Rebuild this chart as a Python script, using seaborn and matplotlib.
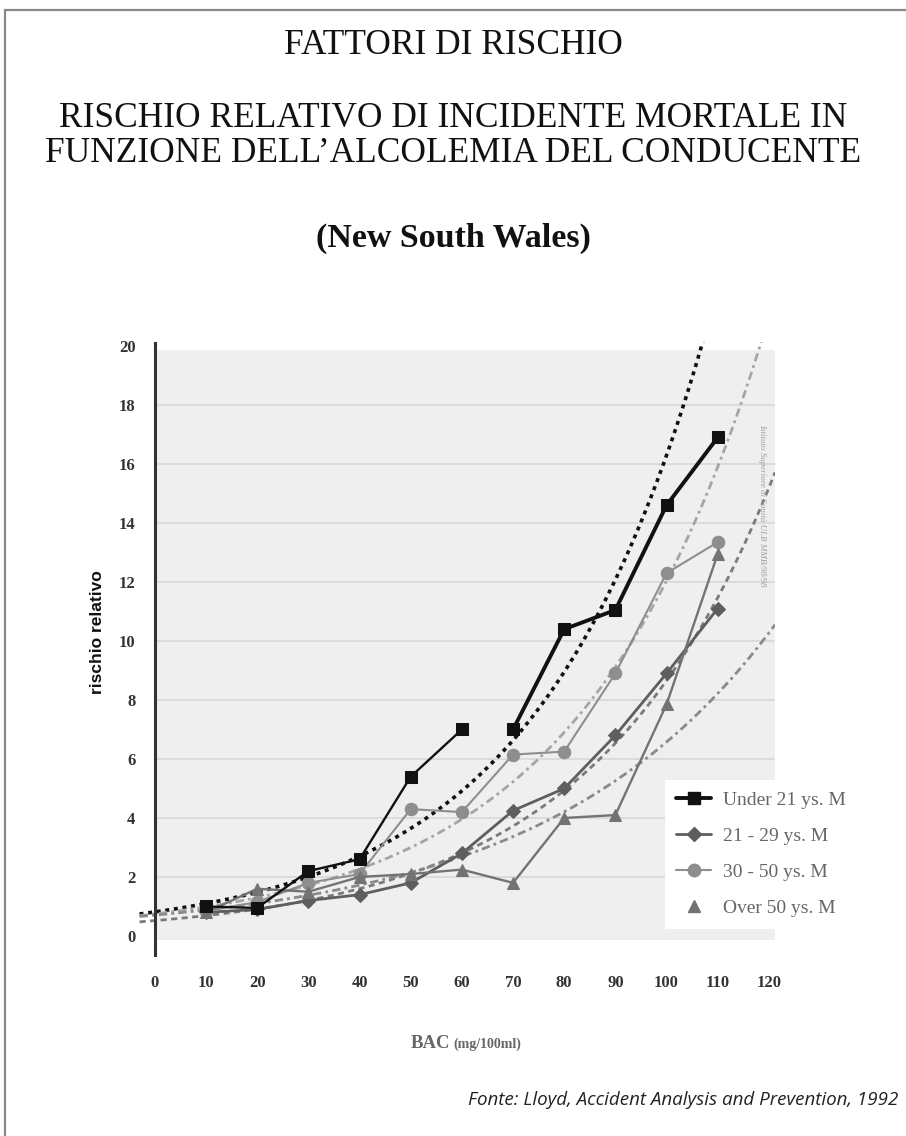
import numpy as np
import pandas as pd
import matplotlib
matplotlib.use("Agg")
import matplotlib.pyplot as plt
from matplotlib.lines import Line2D
from matplotlib.patches import Rectangle
import seaborn as sns

# ---------------- data ----------------
bac = [10, 20, 30, 40, 50, 60, 70, 80, 90, 100, 110]
under21 = [1.0, 0.95, 2.2, 2.6, 5.4, 7.0, 7.0, 10.4, 11.05, 14.6, 16.9]
under21_tratto = [1, 1, 1, 1, 1, 1, 2, 2, 2, 2, 2]
age21_29 = [0.8, 0.9, 1.2, 1.4, 1.8, 2.8, 4.25, 5.0, 6.8, 8.9, 11.1]
age30_50 = [0.85, 1.15, 1.8, 2.1, 4.3, 4.2, 6.15, 6.25, 8.9, 12.3, 13.35]
over50 = [0.8, 1.6, 1.5, 2.0, 2.1, 2.25, 1.8, 4.0, 4.1, 7.85, 12.95]
group_labels = ["Under 21 ys. M", "21 - 29 ys. M", "30 - 50 ys. M", "Over 50 ys. M"]
x_ticks = [0, 10, 20, 30, 40, 50, 60, 70, 80, 90, 100, 110, 120]
x_tick_marks = [10, 30, 40, 50, 60, 70, 90, 100, 110]
y_ticks = [0, 2, 4, 6, 8, 10, 12, 14, 16, 18, 20]
y_tick_marks = [2, 4, 8, 10, 12, 14, 16]
trend_range = (-3, 121.2)

df = pd.concat([
    pd.DataFrame({"BAC": bac, "rischio": under21, "gruppo": group_labels[0], "tratto": under21_tratto}),
    pd.DataFrame({"BAC": bac, "rischio": age21_29, "gruppo": group_labels[1], "tratto": 1}),
    pd.DataFrame({"BAC": bac, "rischio": age30_50, "gruppo": group_labels[2], "tratto": 1}),
    pd.DataFrame({"BAC": bac, "rischio": over50, "gruppo": group_labels[3], "tratto": 1}),
], ignore_index=True)

sns.set_style("white")
plt.rcParams["font.family"] = ["Liberation Serif", "DejaVu Serif"]

W, H = 906, 1136
fig = plt.figure(figsize=(W / 100, H / 100), dpi=100)
fig.patch.set_facecolor("white")

# page frame
fig.patches.append(Rectangle((5 / W, -0.02), 1.2, 1.02 - 10 / H, transform=fig.transFigure,
                             fill=False, ec="#8a8a8a", lw=1.6))

ax = fig.add_axes([137 / W, (H - 940.4) / H, 638 / W, 598.8 / H])
ax.set_xlim(-3.5, 121.2)
ax.set_ylim(-0.15, 20.15)
ax.set_facecolor("white")

# plot background and grid
ax.add_patch(Rectangle((0, -0.15), 121.2, 20.0, fc="#efefef", ec="none", zorder=0))
ax.hlines(y_ticks[1:-1], 0, 121.2, colors="#d9d9d9", lw=1.3, zorder=1)

styles = {
    group_labels[0]: dict(color="#111111", marker="s", ms=9, lw=2.0),
    group_labels[1]: dict(color="#5e5e5e", marker="D", ms=7, lw=2.0),
    group_labels[2]: dict(color="#8e8e8e", marker="o", ms=9, lw=1.5),
    group_labels[3]: dict(color="#737373", marker="^", ms=9, lw=1.7),
}
trend_styles = {
    group_labels[0]: dict(color="#111111", lw=2.6, ls=(0, (1.1, 1.3))),
    group_labels[1]: dict(color="#7a7a7a", lw=2.0, ls=(0, (2.2, 1.6))),
    group_labels[2]: dict(color="#a5a5a5", lw=2.0, ls=(0, (3, 1.5, 1, 1.5))),
    group_labels[3]: dict(color="#8a8a8a", lw=2.0, ls=(0, (3, 1.5, 1, 1.5))),
}

# exponential trend lines fitted to each series (as in the original chart)
for g in group_labels:
    sub = df[df["gruppo"] == g]
    b, ln_a = np.polyfit(sub["BAC"], np.log(sub["rischio"]), 1)
    xs = np.linspace(trend_range[0], trend_range[1], 200)
    tdf = pd.DataFrame({"BAC": xs, "rischio": np.exp(ln_a + b * xs)})
    st = trend_styles[g]
    sns.lineplot(data=tdf, x="BAC", y="rischio", ax=ax, color=st["color"], lw=st["lw"],
                 linestyle=st["ls"], zorder=3, legend=False)

# data series
for g in group_labels:
    sub = df[df["gruppo"] == g]
    st = styles[g]
    if g == group_labels[0]:
        for t, lw in [(1, 1.7), (2, 2.8)]:
            s2 = sub[sub["tratto"] == t]
            sns.lineplot(data=s2, x="BAC", y="rischio", ax=ax, color=st["color"], lw=lw,
                         marker=st["marker"], markersize=st["ms"], markeredgecolor=st["color"],
                         zorder=5, legend=False, estimator=None)
    else:
        sns.lineplot(data=sub, x="BAC", y="rischio", ax=ax, color=st["color"], lw=st["lw"],
                     marker=st["marker"], markersize=st["ms"], markeredgecolor=st["color"],
                     zorder=4, legend=False, estimator=None)

# axes styling
for s in ["top", "right", "bottom"]:
    ax.spines[s].set_visible(False)
ax.spines["left"].set_position(("data", 0))
ax.spines["left"].set_color("#333333")
ax.spines["left"].set_linewidth(2.2)
ax.spines["left"].set_bounds(-0.65, 20.1)
ax.spines["left"].set_zorder(6)

ax.set_xticks(x_ticks)
ax.set_xticklabels([str(v) for v in x_ticks])
ax.set_yticks(y_ticks)
ax.set_yticklabels([str(v) for v in y_ticks])
ax.set_xticks(x_tick_marks, minor=True)
ax.set_yticks(y_tick_marks, minor=True)
ax.tick_params(axis="x", which="major", length=0, pad=25, labelsize=12, labelcolor="#333333")
ax.tick_params(axis="y", which="major", length=0, pad=14, labelsize=12, labelcolor="#333333")
ax.tick_params(axis="x", which="minor", length=6, width=1.6, color="#555555", direction="out", bottom=True)
ax.tick_params(axis="y", which="minor", length=8, width=1.6, color="#333333", direction="out", left=True)
for lab in ax.get_xticklabels() + ax.get_yticklabels():
    lab.set_fontweight("bold")
ax.set_xlabel("")
ax.set_ylabel("")

# axis labels
fig.text(98 / W, 1 - 632 / H, "rischio relativo", rotation=90, ha="center", va="center",
         fontsize=12.5, fontweight="bold", family=["Liberation Sans", "DejaVu Sans"], color="#111111")
fig.text(450 / W, 1 - 1048 / H, "BAC", ha="right", va="baseline", fontsize=13.5,
         fontweight="bold", color="#666666")
fig.text(453 / W, 1 - 1048 / H, "(mg/100ml)", ha="left", va="baseline", fontsize=10,
         fontweight="bold", color="#666666")

# titles
fig.text(0.5, 1 - 46 / H, "FATTORI DI RISCHIO", ha="center", va="center", fontsize=25.5, color="#111111")
fig.text(0.5, 1 - 119 / H, "RISCHIO RELATIVO DI INCIDENTE MORTALE IN", ha="center", va="center",
         fontsize=25.5, color="#111111")
fig.text(0.5, 1 - 154 / H, "FUNZIONE DELL\u2019ALCOLEMIA DEL CONDUCENTE", ha="center", va="center",
         fontsize=25.5, color="#111111")
fig.text(0.5, 1 - 238 / H, "(New South Wales)", ha="center", va="center", fontsize=24.5,
         fontweight="bold", color="#111111")

# vertical small note
fig.text(762 / W, 1 - 505 / H, "Istituto Superiore di Sanit\u00e0 ULB MMB/98/98", rotation=-90,
         ha="center", va="center", fontsize=6.5, style="italic", color="#a0a0a0")

# source
fig.text(898 / W, 1 - 1100 / H, "Fonte: Lloyd, Accident Analysis and Prevention, 1992",
         ha="right", va="center", fontsize=13.5, style="italic",
         family=["Open Sans", "DejaVu Sans"], color="#222222")

# legend
handles = [
    Line2D([], [], color=styles[group_labels[0]]["color"], lw=2.8, marker="s", ms=9),
    Line2D([], [], color=styles[group_labels[1]]["color"], lw=2.0, marker="D", ms=7),
    Line2D([], [], color=styles[group_labels[2]]["color"], lw=1.5, marker="o", ms=9),
    Line2D([], [], color=styles[group_labels[3]]["color"], lw=0, marker="^", ms=9),
]
leg = fig.legend(handles, group_labels, loc="upper left", bbox_to_anchor=(655 / W, 1 - 770 / H),
                 frameon=True, facecolor="white", edgecolor="none", framealpha=1.0,
                 fontsize=14, labelcolor="#666666", handlelength=1.8, handletextpad=0.6,
                 labelspacing=0.95, borderpad=0.6, fancybox=False)

fig.savefig("out.png", dpi=100)
